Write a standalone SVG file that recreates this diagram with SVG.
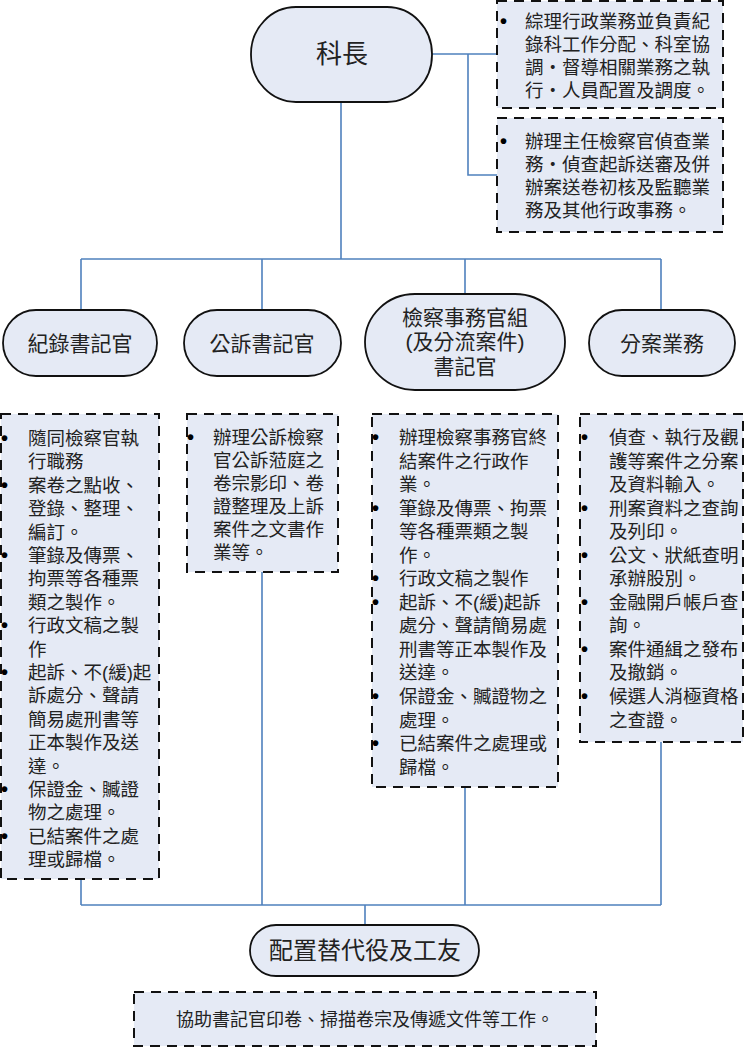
<svg xmlns="http://www.w3.org/2000/svg" width="744" height="1048" viewBox="0 0 744 1048">
<style>
.pill{fill:#e5eaf5;stroke:#111;stroke-width:1.8}
.box{fill:#e5eaf5;stroke:#111;stroke-width:2;stroke-dasharray:10 7}
.conn{fill:none;stroke:#4f81bd;stroke-width:1.6}
text{font-family:"Liberation Sans","Noto Sans CJK TC",sans-serif;fill:#222;dominant-baseline:central}
.pt{text-anchor:middle}
.d{font-size:18.5px}
.b{font-family:"Liberation Sans",sans-serif;font-size:20px;font-weight:bold;fill:#000}
</style>
<rect width="744" height="1048" fill="#fff"/>
<g id="connectors">
<path class="conn" d="M432 54 H497 M468 54 V175 H497"/>
<path class="conn" d="M341 102 V259 M81 259 H661 M81 259 V310 M262 259 V310 M465 259 V295 M661 259 V310"/>
<path class="conn" d="M262 572 V905 M81 879 V905 M465 787 V905 M661 742 V905 M81 905 H661 M365 905 V925"/>
</g>
<g id="chief">
<rect class="pill" x="251" y="7" width="181" height="95" rx="45" ry="47"/>
<text class="pt" x="342" y="54" font-size="26">科長</text>
</g>
<g id="chief-note1">
<rect class="box" x="497" y="1" width="226" height="107"/>
<text class="b" x="500" y="21">•</text>
<text class="d" x="525" y="21">綜理行政業務並負責紀</text>
<text class="d" x="525" y="44">錄科工作分配、科室協</text>
<text class="d" x="525" y="67">調‧督導相關業務之執</text>
<text class="d" x="525" y="90">行‧人員配置及調度。</text>
</g>
<g id="chief-note2">
<rect class="box" x="497" y="118" width="226" height="114"/>
<text class="b" x="500" y="141">•</text>
<text class="d" x="525" y="141">辦理主任檢察官偵查業</text>
<text class="d" x="525" y="164">務‧偵查起訴送審及併</text>
<text class="d" x="525" y="187">辦案送卷初核及監聽業</text>
<text class="d" x="525" y="210">務及其他行政事務。</text>
</g>
<g id="node-record">
<rect class="pill" x="3" y="310" width="154" height="66" rx="33" ry="33"/>
<text class="pt" x="80" y="343" font-size="21">紀錄書記官</text>
</g>
<g id="node-public">
<rect class="pill" x="184" y="310" width="157" height="66" rx="33" ry="33"/>
<text class="pt" x="262" y="343" font-size="21">公訴書記官</text>
</g>
<g id="node-affairs">
<rect class="pill" x="365" y="294" width="200" height="96" rx="50" ry="48"/>
<text class="pt" x="465" y="317" font-size="21">檢察事務官組</text>
<text class="pt" x="465" y="341" font-size="21">(及分流案件)</text>
<text class="pt" x="465" y="366" font-size="21">書記官</text>
</g>
<g id="node-dispatch">
<rect class="pill" x="589" y="310" width="146" height="66" rx="33" ry="33"/>
<text class="pt" x="662" y="343" font-size="21">分案業務</text>
</g>
<g id="box-record">
<rect class="box" x="1" y="414" width="158" height="465"/>
<text class="b" x="1" y="438">•</text>
<text class="b" x="1" y="485">•</text>
<text class="b" x="1" y="555">•</text>
<text class="b" x="1" y="625">•</text>
<text class="b" x="1" y="672">•</text>
<text class="b" x="1" y="789">•</text>
<text class="b" x="1" y="836">•</text>
<text class="d" x="28" y="438">隨同檢察官執</text>
<text class="d" x="28" y="461">行職務</text>
<text class="d" x="28" y="485">案卷之點收、</text>
<text class="d" x="28" y="508">登錄、整理、</text>
<text class="d" x="28" y="532">編訂。</text>
<text class="d" x="28" y="555">筆錄及傳票、</text>
<text class="d" x="28" y="578">拘票等各種票</text>
<text class="d" x="28" y="602">類之製作。</text>
<text class="d" x="28" y="625">行政文稿之製</text>
<text class="d" x="28" y="649">作</text>
<text class="d" x="28" y="672">起訴、不(緩)起</text>
<text class="d" x="28" y="695">訴處分、聲請</text>
<text class="d" x="28" y="719">簡易處刑書等</text>
<text class="d" x="28" y="742">正本製作及送</text>
<text class="d" x="28" y="766">達。</text>
<text class="d" x="28" y="789">保證金、贓證</text>
<text class="d" x="28" y="812">物之處理。</text>
<text class="d" x="28" y="836">已結案件之處</text>
<text class="d" x="28" y="859">理或歸檔。</text>
</g>
<g id="box-public">
<rect class="box" x="187" y="414" width="151" height="158"/>
<text class="b" x="187" y="437">•</text>
<text class="d" x="213" y="437">辦理公訴檢察</text>
<text class="d" x="213" y="460">官公訴蒞庭之</text>
<text class="d" x="213" y="483">卷宗影印、卷</text>
<text class="d" x="213" y="506">證整理及上訴</text>
<text class="d" x="213" y="529">案件之文書作</text>
<text class="d" x="213" y="552">業等。</text>
</g>
<g id="box-affairs">
<rect class="box" x="372" y="414" width="186" height="373"/>
<text class="b" x="372" y="437">•</text>
<text class="b" x="372" y="508">•</text>
<text class="b" x="372" y="578">•</text>
<text class="b" x="372" y="602">•</text>
<text class="b" x="372" y="696">•</text>
<text class="b" x="372" y="743">•</text>
<text class="d" x="399" y="437">辦理檢察事務官終</text>
<text class="d" x="399" y="461">結案件之行政作</text>
<text class="d" x="399" y="484">業。</text>
<text class="d" x="399" y="508">筆錄及傳票、拘票</text>
<text class="d" x="399" y="531">等各種票類之製</text>
<text class="d" x="399" y="555">作。</text>
<text class="d" x="399" y="578">行政文稿之製作</text>
<text class="d" x="399" y="602">起訴、不(緩)起訴</text>
<text class="d" x="399" y="625">處分、聲請簡易處</text>
<text class="d" x="399" y="649">刑書等正本製作及</text>
<text class="d" x="399" y="672">送達。</text>
<text class="d" x="399" y="696">保證金、贓證物之</text>
<text class="d" x="399" y="720">處理。</text>
<text class="d" x="399" y="743">已結案件之處理或</text>
<text class="d" x="399" y="767">歸檔。</text>
</g>
<g id="box-dispatch">
<rect class="box" x="580" y="414" width="163" height="328"/>
<text class="b" x="581" y="437">•</text>
<text class="b" x="581" y="508">•</text>
<text class="b" x="581" y="555">•</text>
<text class="b" x="581" y="602">•</text>
<text class="b" x="581" y="649">•</text>
<text class="b" x="581" y="696">•</text>
<text class="d" x="609" y="437">偵查、執行及觀</text>
<text class="d" x="609" y="461">護等案件之分案</text>
<text class="d" x="609" y="484">及資料輸入。</text>
<text class="d" x="609" y="508">刑案資料之查詢</text>
<text class="d" x="609" y="531">及列印。</text>
<text class="d" x="609" y="555">公文、狀紙查明</text>
<text class="d" x="609" y="578">承辦股別。</text>
<text class="d" x="609" y="602">金融開戶帳戶查</text>
<text class="d" x="609" y="625">詢。</text>
<text class="d" x="609" y="649">案件通緝之發布</text>
<text class="d" x="609" y="672">及撤銷。</text>
<text class="d" x="609" y="696">候選人消極資格</text>
<text class="d" x="609" y="720">之查證。</text>
</g>
<g id="node-helpers">
<rect class="pill" x="250" y="925" width="229" height="51" rx="26" ry="25.5"/>
<text class="pt" x="365" y="950" font-size="24">配置替代役及工友</text>
</g>
<g id="box-helpers">
<rect class="box" x="134" y="992" width="462" height="54"/>
<text class="pt" x="365" y="1020" font-size="18">協助書記官印卷、掃描卷宗及傳遞文件等工作。</text>
</g>
</svg>
